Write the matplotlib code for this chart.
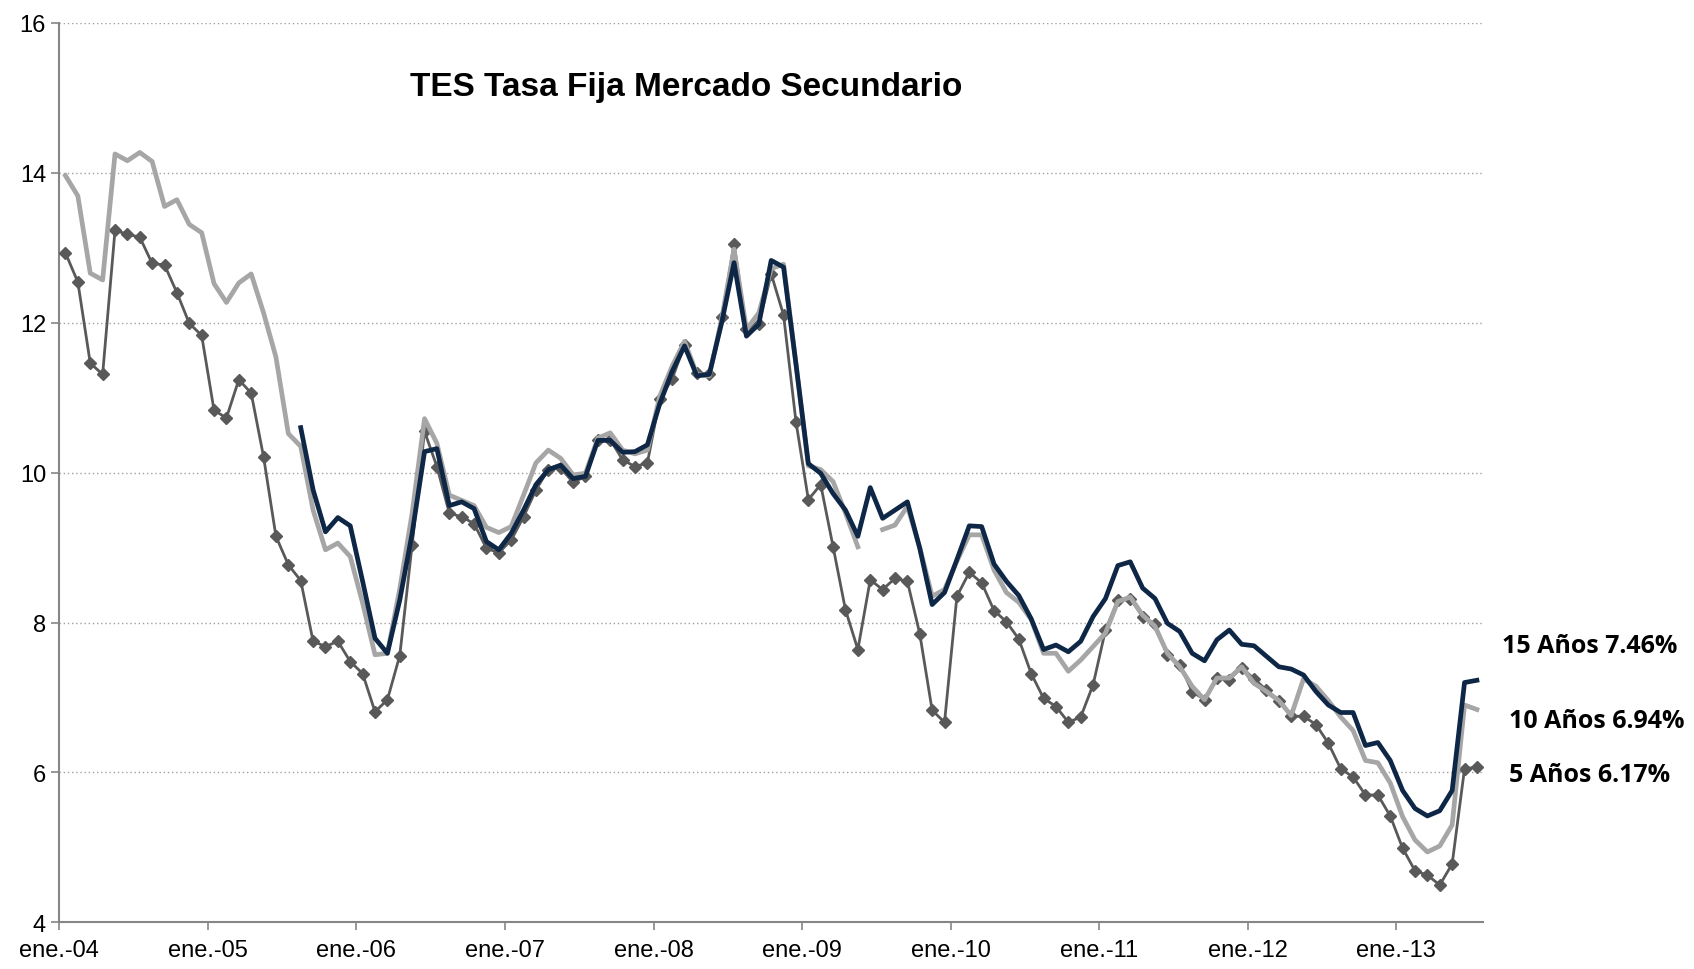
import matplotlib.pyplot as plt
import numpy as np

nan = np.nan

# Meses desde ene.-04 hasta jul.-13
year_labels = ["ene.-04", "ene.-05", "ene.-06", "ene.-07", "ene.-08",
               "ene.-09", "ene.-10", "ene.-11", "ene.-12", "ene.-13"]

tes_5y = [
    12.93, 12.54, 11.46, 11.31, 13.23, 13.18, 13.14, 12.79, 12.77, 12.40,
    11.99, 11.83, 10.83, 10.73, 11.24, 11.06, 10.21, 9.15, 8.77, 8.56,
    7.75, 7.68, 7.75, 7.48, 7.32, 6.81, 6.97, 7.56, 9.04, 10.55,
    10.08, 9.46, 9.41, 9.32, 8.99, 8.93, 9.10, 9.41, 9.77, 10.04,
    10.06, 9.87, 9.95, 10.44, 10.44, 10.17, 10.08, 10.13, 10.98, 11.25,
    11.70, 11.33, 11.31, 12.07, 13.05, 11.92, 11.98, 12.65, 12.10, 10.68,
    9.64, 9.84, 9.01, 8.17, 7.64, 8.57, 8.44, 8.59, 8.55, 7.85,
    6.83, 6.67, 8.35, 8.67, 8.53, 8.16, 8.01, 7.78, 7.32, 6.99,
    6.88, 6.67, 6.74, 7.17, 7.90, 8.30, 8.32, 8.08, 7.98, 7.57,
    7.44, 7.08, 6.97, 7.26, 7.24, 7.40, 7.25, 7.10, 6.96, 6.75,
    6.75, 6.64, 6.39, 6.05, 5.94, 5.70, 5.70, 5.42, 4.99, 4.69,
    4.63, 4.50, 4.78, 6.05, 6.07,
]

tes_10y = [
    13.96, 13.69, 12.66, 12.57, 14.25, 14.16, 14.27, 14.15, 13.55, 13.64,
    13.31, 13.20, 12.52, 12.27, 12.53, 12.65, 12.13, 11.54, 10.52, 10.35,
    9.50, 8.97, 9.06, 8.88, 8.26, 7.57, 7.59, 8.45, 9.46, 10.72,
    10.39, 9.70, 9.63, 9.56, 9.27, 9.20, 9.28, 9.70, 10.13, 10.30,
    10.19, 9.97, 9.99, 10.46, 10.53, 10.30, 10.25, 10.30, 11.02, 11.42,
    11.75, 11.31, 11.29, 12.05, 12.98, 11.91, 12.13, 12.72, 12.78, 11.45,
    10.09, 10.04, 9.88, 9.46, 9.01, nan, 9.24, 9.30, 9.55, 9.00,
    8.35, 8.44, 8.82, 9.17, 9.17, 8.70, 8.40, 8.27, 8.04, 7.59,
    7.59, 7.35, 7.50, 7.68, 7.86, 8.28, 8.34, 8.10, 7.95, 7.59,
    7.41, 7.15, 6.97, 7.26, 7.26, 7.41, 7.19, 7.08, 6.96, 6.76,
    7.25, 7.15, 6.96, 6.74, 6.56, 6.16, 6.13, 5.86, 5.41, 5.10,
    4.94, 5.02, 5.30, 6.90, 6.84,
]

tes_15y = [nan] * 19 + [
    10.60, 9.77, 9.21, 9.40, 9.29, 8.55, 7.79, 7.59, 8.30, 9.19,
    10.28, 10.32, 9.56, 9.61, 9.52, 9.08, 8.97, 9.19, 9.50, 9.84,
    10.04, 10.10, 9.92, 9.95, 10.43, 10.43, 10.27, 10.28, 10.37, 10.92,
    11.35, 11.69, 11.29, 11.31, 12.00, 12.80, 11.82, 11.98, 12.83, 12.74,
    11.45, 10.12, 9.99, 9.72, 9.50, 9.15, 9.80, 9.39, 9.50, 9.61,
    8.99, 8.24, 8.40, 8.84, 9.29, 9.28, 8.78, 8.55, 8.36, 8.05,
    7.64, 7.70, 7.61, 7.75, 8.08, 8.32, 8.76, 8.81, 8.46, 8.32,
    7.99, 7.88, 7.59, 7.49, 7.77, 7.90, 7.71, 7.69, 7.55, 7.41,
    7.38, 7.30, 7.08, 6.90, 6.80, 6.80, 6.36, 6.40, 6.16, 5.76,
    5.52, 5.42, 5.49, 5.76, 7.20, 7.23,
]

end_labels = ["15 Años 7.46%", "10 Años 6.94%", "5 Años 6.17%"]

sans = ["Liberation Sans", "DejaVu Sans"]
label_font = ["Open Sans", "DejaVu Sans"]

months = np.arange(len(tes_5y))

fig = plt.figure(figsize=(16.94, 9.70), dpi=100)
ax = fig.add_axes([0.035, 0.048, 0.8405, 0.9275])

ax.plot(months, tes_5y, color="#595959", linewidth=2.0, marker="D",
        markersize=6.5, zorder=3)
ax.plot(months, tes_10y, color="#A6A6A6", linewidth=3.4, zorder=4)
ax.plot(months, tes_15y, color="#0E2747", linewidth=3.4, zorder=5)

ax.set_xlim(-0.5, len(months) - 0.5)
ax.set_ylim(4, 16)
ax.set_yticks(np.arange(4, 17, 2))
ax.set_xticks(np.arange(len(year_labels)) * 12 - 0.5)
ax.set_xticklabels(year_labels, family=sans, fontsize=17)
for lbl in ax.get_yticklabels():
    lbl.set_family(sans)
    lbl.set_fontsize(17)

ax.grid(axis="y", color="#A0A0A0", linestyle=(0, (1, 2)), linewidth=1)
ax.set_axisbelow(True)
for side in ["top", "right"]:
    ax.spines[side].set_visible(False)
for side in ["left", "bottom"]:
    ax.spines[side].set_color("#868686")
    ax.spines[side].set_linewidth(1.5)
ax.tick_params(axis="both", color="#868686", length=6, width=1.2)
ax.tick_params(axis="x", pad=6)

ax.text(50.1, 15.15, "TES Tasa Fija Mercado Secundario", ha="center",
        va="center", fontsize=24, fontweight="bold", family=sans)

ax.text(116.0, 7.70, end_labels[0], ha="left", va="center", fontsize=18,
        fontweight="bold", family=label_font, clip_on=False)
ax.text(116.6, 6.69, end_labels[1], ha="left", va="center", fontsize=18,
        fontweight="bold", family=label_font, clip_on=False)
ax.text(116.6, 5.97, end_labels[2], ha="left", va="center", fontsize=18,
        fontweight="bold", family=label_font, clip_on=False)

fig.savefig("out.png", dpi=100)
